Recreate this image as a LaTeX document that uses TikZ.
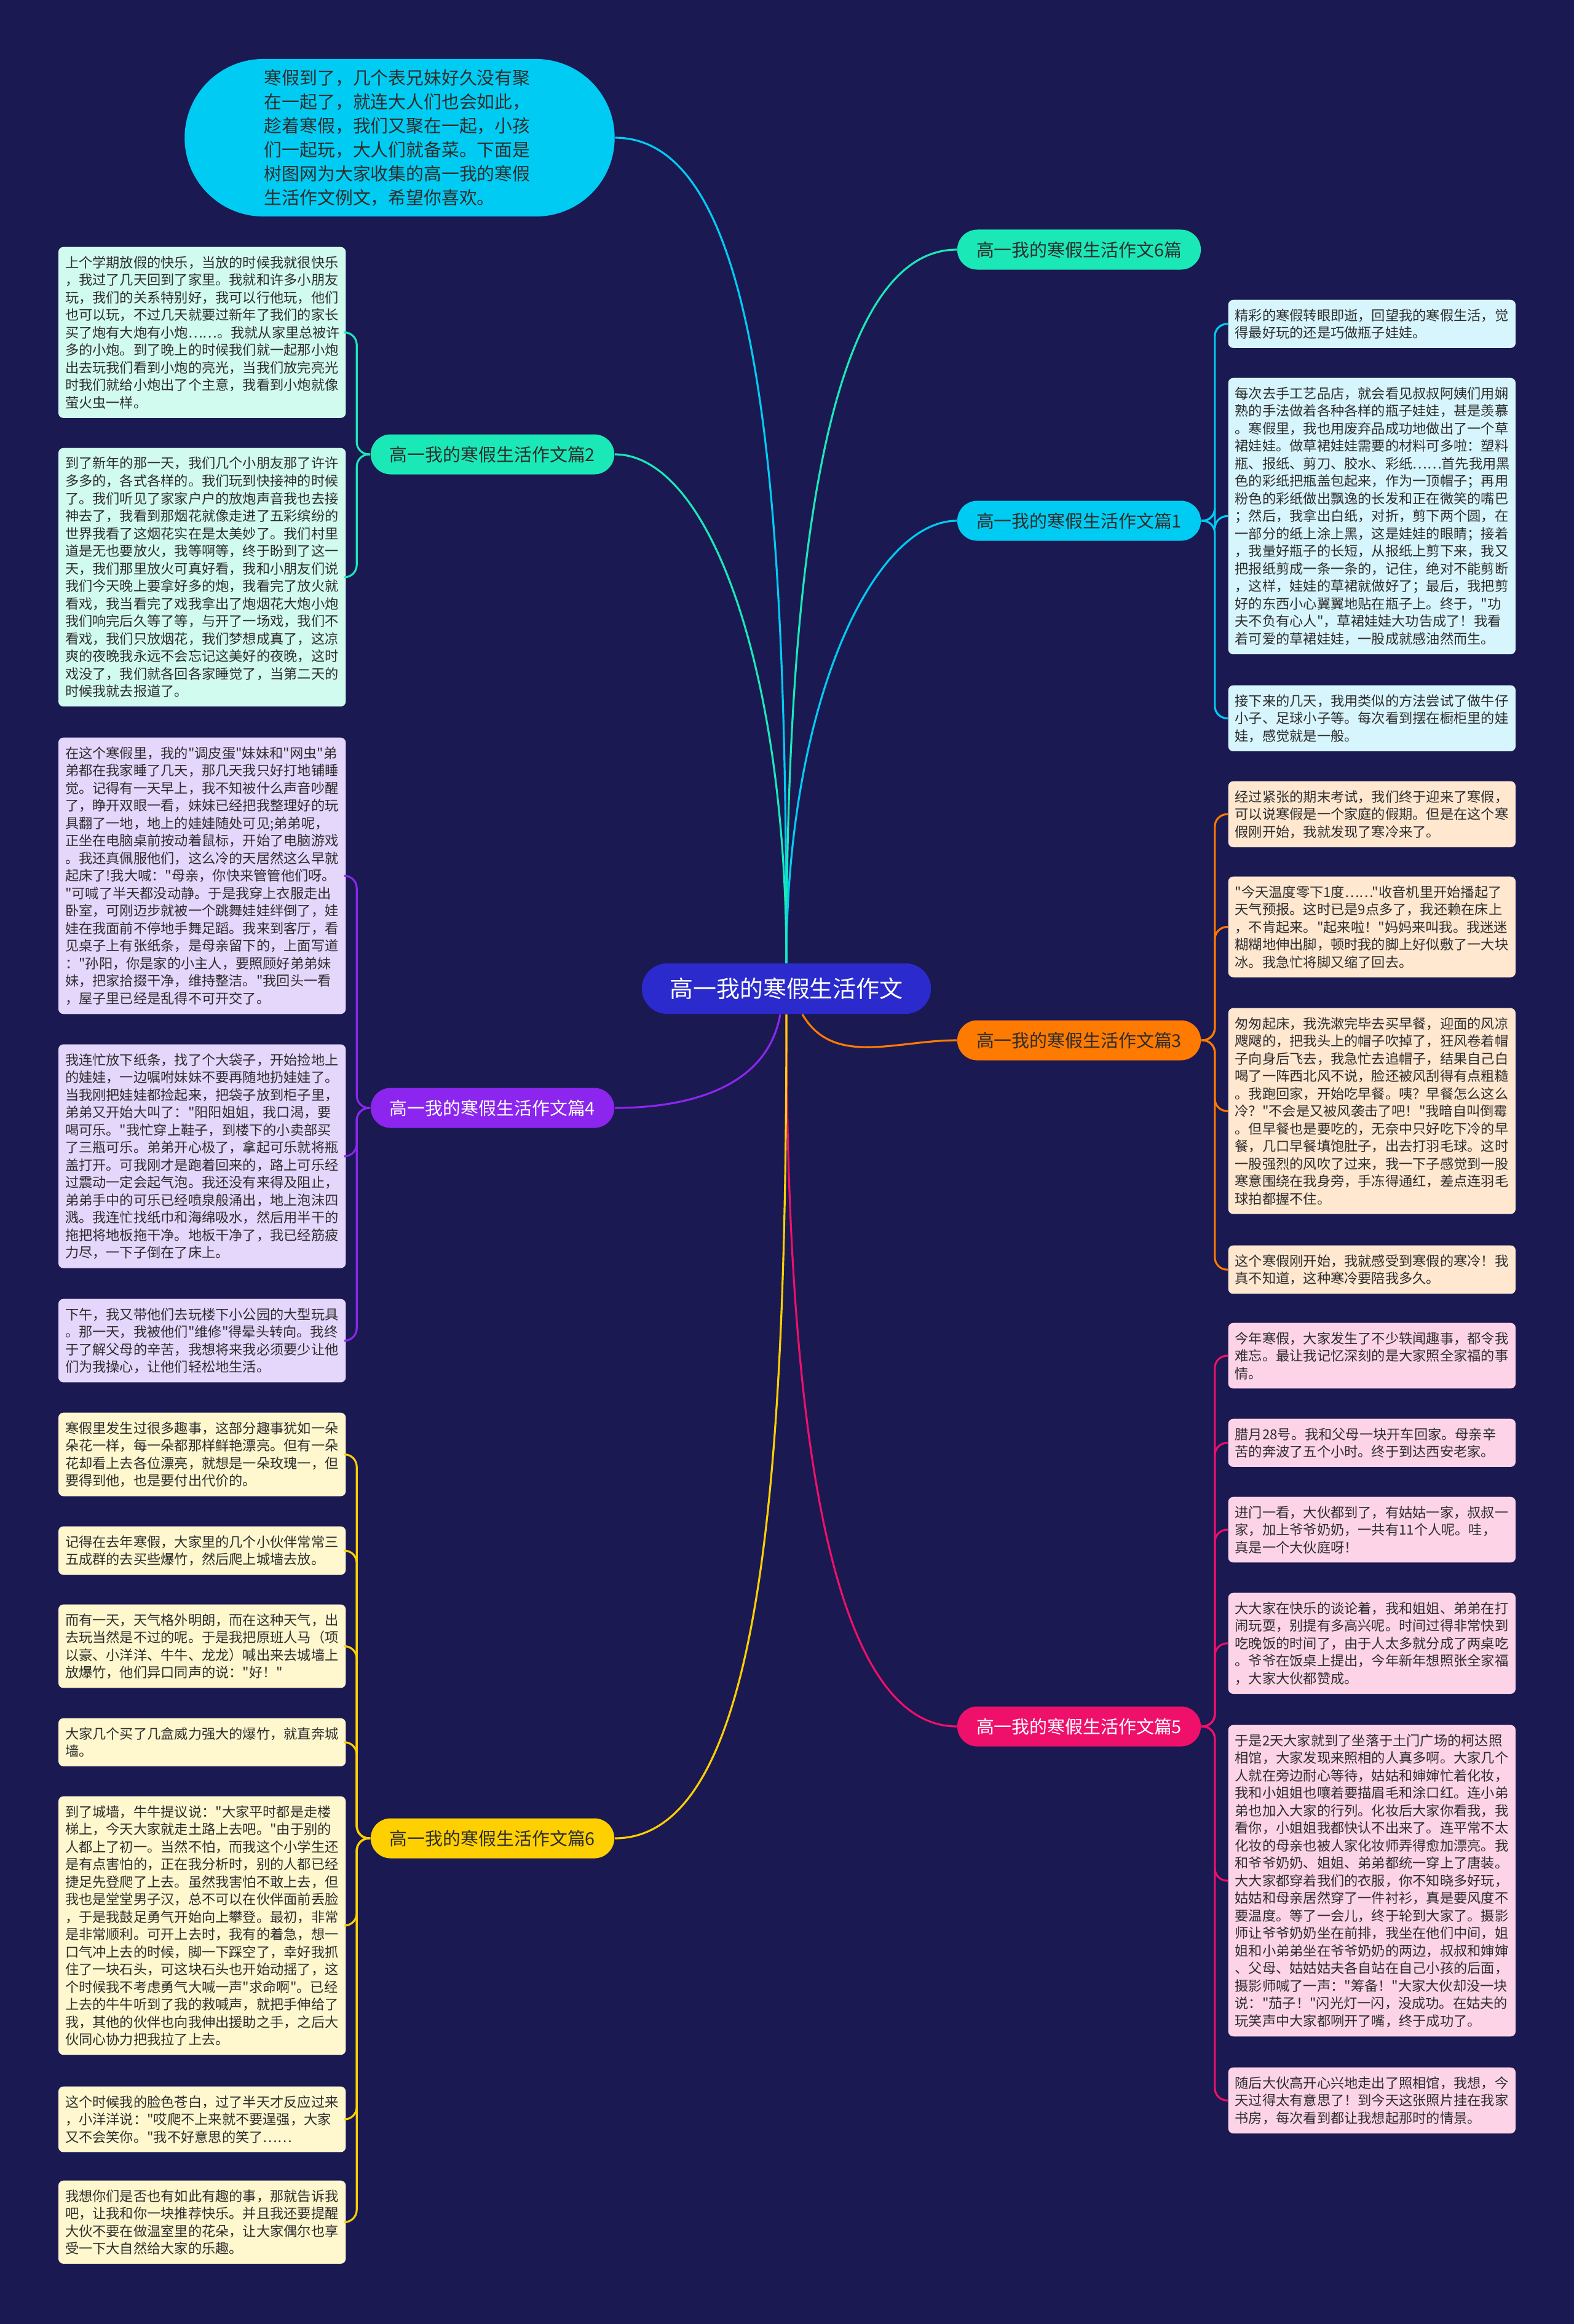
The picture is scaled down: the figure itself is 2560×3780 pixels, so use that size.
\documentclass[tikz,border=0pt]{standalone}
\usepackage{fontspec}
\setmainfont{Noto Sans CJK SC}[Ligatures=TeXOff]
\usetikzlibrary{topaths}

\definecolor{night}{RGB}{27,25,82}
\definecolor{hubblue}{RGB}{42,42,205}
\definecolor{skyc}{RGB}{0,204,243}
\definecolor{mintc}{RGB}{26,233,183}
\definecolor{orangec}{RGB}{255,122,0}
\definecolor{violetc}{RGB}{140,38,238}
\definecolor{rosec}{RGB}{238,16,106}
\definecolor{goldc}{RGB}{255,208,0}
\definecolor{skyleaf}{RGB}{215,245,252}
\definecolor{mintleaf}{RGB}{210,251,239}
\definecolor{orangeleaf}{RGB}{255,231,208}
\definecolor{violetleaf}{RGB}{229,214,252}
\definecolor{roseleaf}{RGB}{253,212,231}
\definecolor{goldleaf}{RGB}{255,247,206}
\definecolor{ink}{RGB}{45,45,45}

\tikzset{
  leaf/.style={rounded corners=0.08cm, text width=4.45cm, align=left,
    inner xsep=0.11cm, inner ysep=0.145cm, text=ink,
    font=\fontsize{6.32}{8.11}\selectfont},
  leftleaf/.style={leaf, anchor=north east},
  rightleaf/.style={leaf, anchor=north west},
  topic/.style={rounded corners=0.325cm, minimum width=3.96cm,
    minimum height=0.65cm, inner sep=0pt, text=ink,
    font=\fontsize{8.22}{9.8}\selectfont},
  link/.style={line width=0.9pt},
  twig/.style={line width=0.9pt, rounded corners=0.2cm},
  upcurve/.style={out looseness=1.4, in looseness=0.45},
}

\begin{document}
\begin{tikzpicture}[x=0.01cm, y=-0.01cm]
    \useasboundingbox (0,0) rectangle (2560,3780);
    \fill[night] (0,0) rectangle (2560,3780);

    % centre and intro
    \node[fill=hubblue, rounded corners=0.41cm, minimum width=4.7cm, minimum height=0.82cm,
          inner sep=0pt, text=white, font=\fontsize{10.8}{13}\selectfont] (root) at (1279,1608) {高一我的寒假生活作文};
    \node[fill=skyc, rounded corners=1.28cm, minimum width=6.99cm, minimum height=2.56cm,
          text width=4.4cm, align=left, text=ink, font=\fontsize{8.2}{11.1}\selectfont] (intro) at (650,224)
          {寒假到了，几个表兄妹好久没有聚\\在一起了，就连大人们也会如此，\\趁着寒假，我们又聚在一起，小孩\\们一起玩，大人们就备菜。下面是\\树图网为大家收集的高一我的寒假\\生活作文例文，希望你喜欢。};

    % topics
    \node[topic, fill=mintc] (b0) at (1755,406) {高一我的寒假生活作文6篇};
    \node[topic, fill=skyc] (b1) at (1755,847) {高一我的寒假生活作文篇1};
    \node[topic, fill=orangec] (b3) at (1755,1692) {高一我的寒假生活作文篇3};
    \node[topic, fill=rosec, text=white] (b5) at (1755,2808) {高一我的寒假生活作文篇5};
    \node[topic, fill=mintc] (b2) at (801,739) {高一我的寒假生活作文篇2};
    \node[topic, fill=violetc, text=white] (b4) at (801,1802) {高一我的寒假生活作文篇4};
    \node[topic, fill=goldc] (b6) at (801,2990) {高一我的寒假生活作文篇6};

    \draw[link, skyc] (intro.east) to[out=0, in=90, out looseness=0.45, in looseness=1.4] (root.north);
    \draw[link, mintc] (root.north) to[out=90, in=180, upcurve] (b0.west);
    \draw[link, skyc] (root.north) to[out=90, in=180, upcurve] (b1.west);
    \draw[link, mintc] (root.north) to[out=90, in=0, upcurve] (b2.east);
    \draw[link, orangec] ([xshift=0.26cm]root.south) to[out=-60, in=180] (b3.west);
    \draw[link, violetc] ([xshift=-0.1cm]root.south) to[out=-100, in=0] (b4.east);
    \draw[link, rosec] (root.south) to[out=-90, in=180, upcurve] (b5.west);
    \draw[link, goldc] (root.south) to[out=-90, in=0, upcurve] (b6.east);

    % topic 1
    \node[rightleaf, fill=skyleaf] (l1a) at (1997,487) {精彩的寒假转眼即逝，回望我的寒假生活，觉\\得最好玩的还是巧做瓶子娃娃。};
    \node[rightleaf, fill=skyleaf] (l1b) at (1997,614) {每次去手工艺品店，就会看见叔叔阿姨们用娴\\熟的手法做着各种各样的瓶子娃娃，甚是羡慕\\。寒假里，我也用废弃品成功地做出了一个草\\裙娃娃。做草裙娃娃需要的材料可多啦：塑料\\瓶、报纸、剪刀、胶水、彩纸……首先我用黑\\色的彩纸把瓶盖包起来，作为一顶帽子；再用\\粉色的彩纸做出飘逸的长发和正在微笑的嘴巴\\；然后，我拿出白纸，对折，剪下两个圆，在\\一部分的纸上涂上黑，这是娃娃的眼睛；接着\\，我量好瓶子的长短，从报纸上剪下来，我又\\把报纸剪成一条一条的，记住，绝对不能剪断\\，这样，娃娃的草裙就做好了；最后，我把剪\\好的东西小心翼翼地贴在瓶子上。终于，"功\\夫不负有心人"，草裙娃娃大功告成了！我看\\着可爱的草裙娃娃，一股成就感油然而生。};
    \node[rightleaf, fill=skyleaf] (l1c) at (1997,1114) {接下来的几天，我用类似的方法尝试了做牛仔\\小子、足球小子等。每次看到摆在橱柜里的娃\\娃，感觉就是一般。};
    \draw[twig, skyc] (b1.east) -- ++(22,0) |- (l1a.west);
    \draw[twig, skyc] (b1.east) -- ++(22,0) |- (l1b.west);
    \draw[twig, skyc] (b1.east) -- ++(22,0) |- (l1c.west);

    % topic 3
    \node[rightleaf, fill=orangeleaf] (l3a) at (1997,1270) {经过紧张的期末考试，我们终于迎来了寒假，\\可以说寒假是一个家庭的假期。但是在这个寒\\假刚开始，我就发现了寒冷来了。};
    \node[rightleaf, fill=orangeleaf] (l3b) at (1997,1425) {"今天温度零下1度……"收音机里开始播起了\\天气预报。这时已是9点多了，我还赖在床上\\，不肯起来。"起来啦！"妈妈来叫我。我迷迷\\糊糊地伸出脚，顿时我的脚上好似敷了一大块\\冰。我急忙将脚又缩了回去。};
    \node[rightleaf, fill=orangeleaf] (l3c) at (1997,1639) {匆匆起床，我洗漱完毕去买早餐，迎面的风凉\\飕飕的，把我头上的帽子吹掉了，狂风卷着帽\\子向身后飞去，我急忙去追帽子，结果自己白\\喝了一阵西北风不说，脸还被风刮得有点粗糙\\。我跑回家，开始吃早餐。咦？早餐怎么这么\\冷？"不会是又被风袭击了吧！"我暗自叫倒霉\\。但早餐也是要吃的，无奈中只好吃下冷的早\\餐，几口早餐填饱肚子，出去打羽毛球。这时\\一股强烈的风吹了过来，我一下子感觉到一股\\寒意围绕在我身旁，手冻得通红，差点连羽毛\\球拍都握不住。};
    \node[rightleaf, fill=orangeleaf] (l3d) at (1997,2025) {这个寒假刚开始，我就感受到寒假的寒冷！我\\真不知道，这种寒冷要陪我多久。};
    \draw[twig, orangec] (b3.east) -- ++(22,0) |- (l3a.west);
    \draw[twig, orangec] (b3.east) -- ++(22,0) |- (l3b.west);
    \draw[twig, orangec] (b3.east) -- ++(22,0) |- (l3c.west);
    \draw[twig, orangec] (b3.east) -- ++(22,0) |- (l3d.west);

    % topic 5
    \node[rightleaf, fill=roseleaf] (l5a) at (1997,2151) {今年寒假，大家发生了不少轶闻趣事，都令我\\难忘。最让我记忆深刻的是大家照全家福的事\\情。};
    \node[rightleaf, fill=roseleaf] (l5b) at (1997,2307) {腊月28号。我和父母一块开车回家。母亲辛\\苦的奔波了五个小时。终于到达西安老家。};
    \node[rightleaf, fill=roseleaf] (l5c) at (1997,2434) {进门一看，大伙都到了，有姑姑一家，叔叔一\\家，加上爷爷奶奶，一共有11个人呢。哇，\\真是一个大伙庭呀！};
    \node[rightleaf, fill=roseleaf] (l5d) at (1997,2590) {大大家在快乐的谈论着，我和姐姐、弟弟在打\\闹玩耍，别提有多高兴呢。时间过得非常快到\\吃晚饭的时间了，由于人太多就分成了两桌吃\\。爷爷在饭桌上提出，今年新年想照张全家福\\，大家大伙都赞成。};
    \node[rightleaf, fill=roseleaf] (l5e) at (1997,2805) {于是2天大家就到了坐落于土门广场的柯达照\\相馆，大家发现来照相的人真多啊。大家几个\\人就在旁边耐心等待，姑姑和婶婶忙着化妆，\\我和小姐姐也嚷着要描眉毛和涂口红。连小弟\\弟也加入大家的行列。化妆后大家你看我，我\\看你，小姐姐我都快认不出来了。连平常不太\\化妆的母亲也被人家化妆师弄得愈加漂亮。我\\和爷爷奶奶、姐姐、弟弟都统一穿上了唐装。\\大大家都穿着我们的衣服，你不知晓多好玩，\\姑姑和母亲居然穿了一件衬衫，真是要风度不\\要温度。等了一会儿，终于轮到大家了。摄影\\师让爷爷奶奶坐在前排，我坐在他们中间，姐\\姐和小弟弟坐在爷爷奶奶的两边，叔叔和婶婶\\、父母、姑姑姑夫各自站在自己小孩的后面，\\摄影师喊了一声："筹备！"大家大伙却没一块\\说："茄子！"闪光灯一闪，没成功。在姑夫的\\玩笑声中大家都咧开了嘴，终于成功了。};
    \node[rightleaf, fill=roseleaf] (l5f) at (1997,3362) {随后大伙高开心兴地走出了照相馆，我想，今\\天过得太有意思了！到今天这张照片挂在我家\\书房，每次看到都让我想起那时的情景。};
    \draw[twig, rosec] (b5.east) -- ++(22,0) |- (l5a.west);
    \draw[twig, rosec] (b5.east) -- ++(22,0) |- (l5b.west);
    \draw[twig, rosec] (b5.east) -- ++(22,0) |- (l5c.west);
    \draw[twig, rosec] (b5.east) -- ++(22,0) |- (l5d.west);
    \draw[twig, rosec] (b5.east) -- ++(22,0) |- (l5e.west);
    \draw[twig, rosec] (b5.east) -- ++(22,0) |- (l5f.west);

    % topic 2
    \node[leftleaf, fill=mintleaf] (l2a) at (563,401) {上个学期放假的快乐，当放的时候我就很快乐\\，我过了几天回到了家里。我就和许多小朋友\\玩，我们的关系特别好，我可以行他玩，他们\\也可以玩，不过几天就要过新年了我们的家长\\买了炮有大炮有小炮……。我就从家里总被许\\多的小炮。到了晚上的时候我们就一起那小炮\\出去玩我们看到小炮的亮光，当我们放完亮光\\时我们就给小炮出了个主意，我看到小炮就像\\萤火虫一样。};
    \node[leftleaf, fill=mintleaf] (l2b) at (563,728) {到了新年的那一天，我们几个小朋友那了许许\\多多的，各式各样的。我们玩到快接神的时候\\了。我们听见了家家户户的放炮声音我也去接\\神去了，我看到那烟花就像走进了五彩缤纷的\\世界我看了这烟花实在是太美妙了。我们村里\\道是无也要放火，我等啊等，终于盼到了这一\\天，我们那里放火可真好看，我和小朋友们说\\我们今天晚上要拿好多的炮，我看完了放火就\\看戏，我当看完了戏我拿出了炮烟花大炮小炮\\我们响完后久等了等，与开了一场戏，我们不\\看戏，我们只放烟花，我们梦想成真了，这凉\\爽的夜晚我永远不会忘记这美好的夜晚，这时\\戏没了，我们就各回各家睡觉了，当第二天的\\时候我就去报道了。};
    \draw[twig, mintc] (b2.west) -- ++(-22,0) |- (l2a.east);
    \draw[twig, mintc] (b2.west) -- ++(-22,0) |- (l2b.east);

    % topic 4
    \node[leftleaf, fill=violetleaf] (l4a) at (563,1199) {在这个寒假里，我的"调皮蛋"妹妹和"网虫"弟\\弟都在我家睡了几天，那几天我只好打地铺睡\\觉。记得有一天早上，我不知被什么声音吵醒\\了，睁开双眼一看，妹妹已经把我整理好的玩\\具翻了一地，地上的娃娃随处可见;弟弟呢，\\正坐在电脑桌前按动着鼠标，开始了电脑游戏\\。我还真佩服他们，这么冷的天居然这么早就\\起床了!我大喊："母亲，你快来管管他们呀。\\"可喊了半天都没动静。于是我穿上衣服走出\\卧室，可刚迈步就被一个跳舞娃娃绊倒了，娃\\娃在我面前不停地手舞足蹈。我来到客厅，看\\见桌子上有张纸条，是母亲留下的，上面写道\\："孙阳，你是家的小主人，要照顾好弟弟妹\\妹，把家拾掇干净，维持整洁。"我回头一看\\，屋子里已经是乱得不可开交了。};
    \node[leftleaf, fill=violetleaf] (l4b) at (563,1698) {我连忙放下纸条，找了个大袋子，开始捡地上\\的娃娃，一边嘱咐妹妹不要再随地扔娃娃了。\\当我刚把娃娃都捡起来，把袋子放到柜子里，\\弟弟又开始大叫了："阳阳姐姐，我口渴，要\\喝可乐。"我忙穿上鞋子，到楼下的小卖部买\\了三瓶可乐。弟弟开心极了，拿起可乐就将瓶\\盖打开。可我刚才是跑着回来的，路上可乐经\\过震动一定会起气泡。我还没有来得及阻止，\\弟弟手中的可乐已经喷泉般涌出，地上泡沫四\\溅。我连忙找纸巾和海绵吸水，然后用半干的\\拖把将地板拖干净。地板干净了，我已经筋疲\\力尽，一下子倒在了床上。};
    \node[leftleaf, fill=violetleaf] (l4c) at (563,2112) {下午，我又带他们去玩楼下小公园的大型玩具\\。那一天，我被他们"维修"得晕头转向。我终\\于了解父母的辛苦，我想将来我必须要少让他\\们为我操心，让他们轻松地生活。};
    \draw[twig, violetc] (b4.west) -- ++(-22,0) |- (l4a.east);
    \draw[twig, violetc] (b4.west) -- ++(-22,0) |- (l4b.east);
    \draw[twig, violetc] (b4.west) -- ++(-22,0) |- (l4c.east);

    % topic 6
    \node[leftleaf, fill=goldleaf] (l6a) at (563,2297) {寒假里发生过很多趣事，这部分趣事犹如一朵\\朵花一样，每一朵都那样鲜艳漂亮。但有一朵\\花却看上去各位漂亮，就想是一朵玫瑰一，但\\要得到他，也是要付出代价的。};
    \node[leftleaf, fill=goldleaf] (l6b) at (563,2482) {记得在去年寒假，大家里的几个小伙伴常常三\\五成群的去买些爆竹，然后爬上城墙去放。};
    \node[leftleaf, fill=goldleaf] (l6c) at (563,2609) {而有一天，天气格外明朗，而在这种天气，出\\去玩当然是不过的呢。于是我把原班人马（项\\以豪、小洋洋、牛牛、龙龙）喊出来去城墙上\\放爆竹，他们异口同声的说："好！"};
    \node[leftleaf, fill=goldleaf] (l6d) at (563,2794) {大家几个买了几盒威力强大的爆竹，就直奔城\\墙。};
    \node[leftleaf, fill=goldleaf] (l6e) at (563,2921) {到了城墙，牛牛提议说："大家平时都是走楼\\梯上，今天大家就走土路上去吧。"由于别的\\人都上了初一。当然不怕，而我这个小学生还\\是有点害怕的，正在我分析时，别的人都已经\\捷足先登爬了上去。虽然我害怕不敢上去，但\\我也是堂堂男子汉，总不可以在伙伴面前丢脸\\，于是我鼓足勇气开始向上攀登。最初，非常\\是非常顺利。可开上去时，我有的着急，想一\\口气冲上去的时候，脚一下踩空了，幸好我抓\\住了一块石头，可这块石头也开始动摇了，这\\个时候我不考虑勇气大喊一声"求命啊"。已经\\上去的牛牛听到了我的救喊声，就把手伸给了\\我，其他的伙伴也向我伸出援助之手，之后大\\伙同心协力把我拉了上去。};
    \node[leftleaf, fill=goldleaf] (l6f) at (563,3393) {这个时候我的脸色苍白，过了半天才反应过来\\，小洋洋说："哎爬不上来就不要逞强，大家\\又不会笑你。"我不好意思的笑了……};
    \node[leftleaf, fill=goldleaf] (l6g) at (563,3546) {我想你们是否也有如此有趣的事，那就告诉我\\吧，让我和你一块推荐快乐。并且我还要提醒\\大伙不要在做温室里的花朵，让大家偶尔也享\\受一下大自然给大家的乐趣。};
    \draw[twig, goldc] (b6.west) -- ++(-22,0) |- (l6a.east);
    \draw[twig, goldc] (b6.west) -- ++(-22,0) |- (l6b.east);
    \draw[twig, goldc] (b6.west) -- ++(-22,0) |- (l6c.east);
    \draw[twig, goldc] (b6.west) -- ++(-22,0) |- (l6d.east);
    \draw[twig, goldc] (b6.west) -- ++(-22,0) |- (l6e.east);
    \draw[twig, goldc] (b6.west) -- ++(-22,0) |- (l6f.east);
    \draw[twig, goldc] (b6.west) -- ++(-22,0) |- (l6g.east);
\end{tikzpicture}
\end{document}
